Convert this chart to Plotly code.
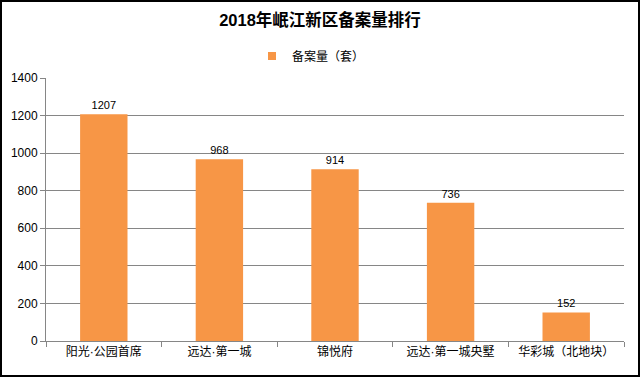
import plotly.graph_objects as go

categories = ["阳光·公园首席", "远达·第一城", "锦悦府", "远达·第一城央墅", "华彩城（北地块）"]
values = [1207, 968, 914, 736, 152]
series_name = "备案量（套）"
title_text = "2018年岷江新区备案量排行"

W, H = 640, 377
ml, mr, mt, mb = 46, 16, 78, 36
pw, ph = W - ml - mr, H - mt - mb

font_family = "Liberation Sans, Noto Sans CJK SC, sans-serif"
bar_color = "#F79646"

fig = go.Figure()
fig.add_trace(go.Bar(
    x=categories, y=values, name=series_name,
    marker=dict(color=bar_color, line=dict(width=0)),
    text=[str(v) for v in values], textposition="outside",
    textfont=dict(size=11, color="#000000"), cliponaxis=False,
    showlegend=False,
))
fig.add_trace(go.Scatter(
    x=[None], y=[None], mode="markers", name=series_name,
    marker=dict(symbol="square", size=8, color=bar_color), showlegend=True,
))

fig.update_layout(
    width=W, height=H,
    margin=dict(l=ml, r=mr, t=mt, b=mb, autoexpand=False),
    paper_bgcolor="white", plot_bgcolor="white",
    font=dict(family=font_family, size=11, color="#000000"),
    title=dict(text="<b>" + title_text + "</b>", x=0.5, xanchor="center",
               y=1 - 20 / H, yanchor="middle", font=dict(size=16.5, color="#000000")),
    legend=dict(orientation="h", x=(252 - ml) / pw, xanchor="left", y=1 + 22 / ph, yanchor="middle",
                font=dict(size=12), itemwidth=30, bgcolor="rgba(0,0,0,0)"),
    bargap=0.59,
    xaxis=dict(type="category", tickson="boundaries", ticks="outside", ticklen=5,
               tickcolor="#868686", showline=True, linecolor="#868686", linewidth=1,
               showgrid=False, tickfont=dict(size=12), automargin=False),
    yaxis=dict(range=[0, 1400], dtick=200, ticks="outside", ticklen=5,
               tickcolor="#868686", showline=True, linecolor="#868686", linewidth=1,
               showgrid=True, gridcolor="#868686", gridwidth=1, zeroline=False,
               tickfont=dict(size=12), automargin=False),
    shapes=[dict(type="rect", xref="paper", yref="paper",
                 x0=(-ml + 1) / pw, x1=(pw + mr - 1) / pw,
                 y0=(-mb + 1) / ph, y1=(ph + mt - 1) / ph,
                 line=dict(color="#000000", width=2), layer="above")],
)

fig.write_html("out.html", config={"displayModeBar": False},
               post_script="document.body.style.margin='0';document.body.style.padding='0';")
